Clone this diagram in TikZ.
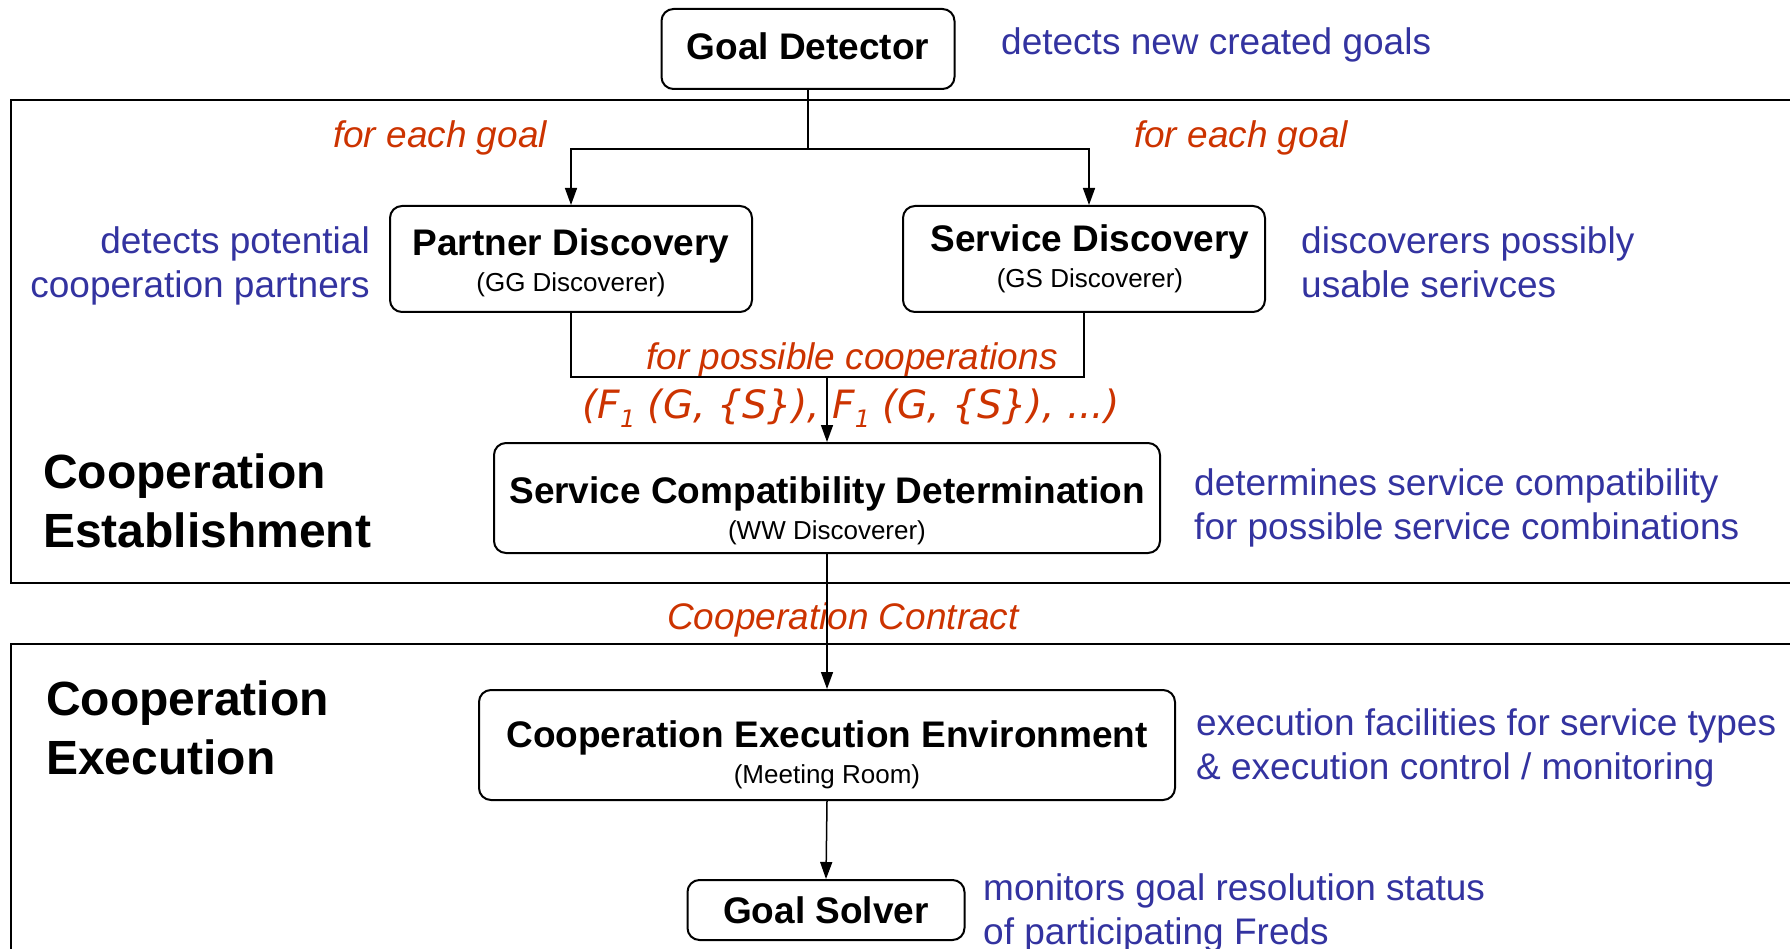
\documentclass[tikz,border=0pt]{standalone}
\usepackage{fontspec}
\setmainfont{Liberation Sans}
\newfontfamily\redfont{DejaVu Sans}[ItalicFont={DejaVu Sans Oblique}]
\usetikzlibrary{arrows.meta}
\definecolor{annblue}{RGB}{51,51,160}
\definecolor{labred}{RGB}{204,51,0}
\tikzset{
  box/.style={draw, line width=2pt, rounded corners=12pt, align=center, inner sep=0pt, font=\fontsize{26}{35.5}\selectfont},
  ann/.style={text=annblue, font=\fontsize{37}{44}\selectfont, inner sep=0pt},
  lab/.style={text=labred, font=\fontsize{37}{44}\selectfont\itshape, inner sep=0pt},
  sec/.style={font=\fontsize{48}{59}\selectfont\bfseries, inner sep=0pt, align=left},
  conn/.style={line width=1.5pt},
  arr/.style={conn, -{Triangle[length=17pt,width=12pt]}},
  frame/.style={line width=2pt},
}
\newcommand\boxtitle[1]{{\fontsize{37}{40}\selectfont\bfseries #1}}
\newcommand\toppad[1]{\rule{0pt}{#1}}
\newcommand\botpad[1]{\rule[-#1]{0pt}{#1}}
\newcommand\lowone[1]{\raisebox{-0.25em}{\fontsize{24}{24}\selectfont #1}}
\begin{document}
\begin{tikzpicture}[x=1pt,y=-1pt]
\useasboundingbox (0,0) rectangle (1790,949);
% section frames (open to the right and bottom)
\draw[frame] (1790,100) -- (11,100) -- (11,583) -- (1790,583);
\draw[frame] (1790,644) -- (11,644) -- (11,949);
% boxes
\node[box, minimum width=293pt, minimum height=80pt] (gd) at (808,49) {\boxtitle{Goal Detector}\botpad{6pt}};
\node[box, minimum width=362pt, minimum height=106pt] (pd) at (571,259) {\toppad{34pt}\boxtitle{Partner Discovery}\\(GG Discoverer)};
\node[box, minimum width=362pt, minimum height=106pt] (sd) at (1084,259) {\hspace*{12pt}\boxtitle{Service Discovery}\\\hspace*{12pt}(GS Discoverer)};
\node[box, minimum width=666pt, minimum height=110pt] (scd) at (827,498) {\toppad{52pt}\boxtitle{Service Compatibility Determination}\\(WW Discoverer)};
\node[box, minimum width=696pt, minimum height=110pt] (cee) at (827,745) {\toppad{46pt}\boxtitle{Cooperation Execution Environment}\\(Meeting Room)};
\node[box, minimum width=277pt, minimum height=60pt] (gs) at (826,910) {\boxtitle{Goal Solver}};
% labels on the connectors
\node[lab, anchor=base] (fe1) at (440,147.5) {for each goal};
\node[lab, anchor=base] (fe2) at (1241,147.5) {for each goal};
\node[lab, anchor=base] (fpc) at (852,370) {for possible cooperations};
\node[lab, anchor=base, font=\fontsize{39}{44}\redfont\itshape] (fset) at (851,418) {(F\lowone{1} (G, \{S\}), F\lowone{1} (G, \{S\}), ...)};
\node[lab, anchor=base] (cc) at (843,629) {Cooperation Contract};
% connectors
\coordinate (ysplit) at (0,149);
\coordinate (yjoin) at (0,377);
\draw[conn] (gd.south) -- (gd.south |- ysplit) coordinate (split);
\draw[arr] (split) -| (pd.north);
\draw[arr] (split) -| ([xshift=5pt]sd.north);
\draw[conn] (pd.south) |- (sd.south |- yjoin) -- (sd.south);
\draw[arr] (scd.north |- yjoin) -- (scd.north);
\draw[arr] (scd.south) -- (cee.north);
\draw[arr] (cee.south) -- (gs.north);
% annotations
\node[ann, anchor=base west] (gdnote) at (1001,55) {detects new created goals};
\node[ann, anchor=base east, align=right] (pdnote) at (370,297.5) {detects potential\\cooperation partners};
\node[ann, anchor=base west, align=left] (sdnote) at (1301,297.5) {discoverers possibly\\usable serivces};
\node[ann, anchor=base west, align=left] (scdnote) at (1194,539) {determines service compatibility\\for possible service combinations};
\node[ann, anchor=base west, align=left] (ceenote) at (1196,779) {execution facilities for service types\\\& execution control / monitoring};
\node[ann, anchor=base west, align=left] (gsnote) at (983,944) {monitors goal resolution status\\of participating Freds};
\node[sec, anchor=base west] (estab) at (43,547) {Cooperation\\Establishment};
\node[sec, anchor=base west] (exec) at (46,774) {Cooperation\\Execution};
\end{tikzpicture}
\end{document}
